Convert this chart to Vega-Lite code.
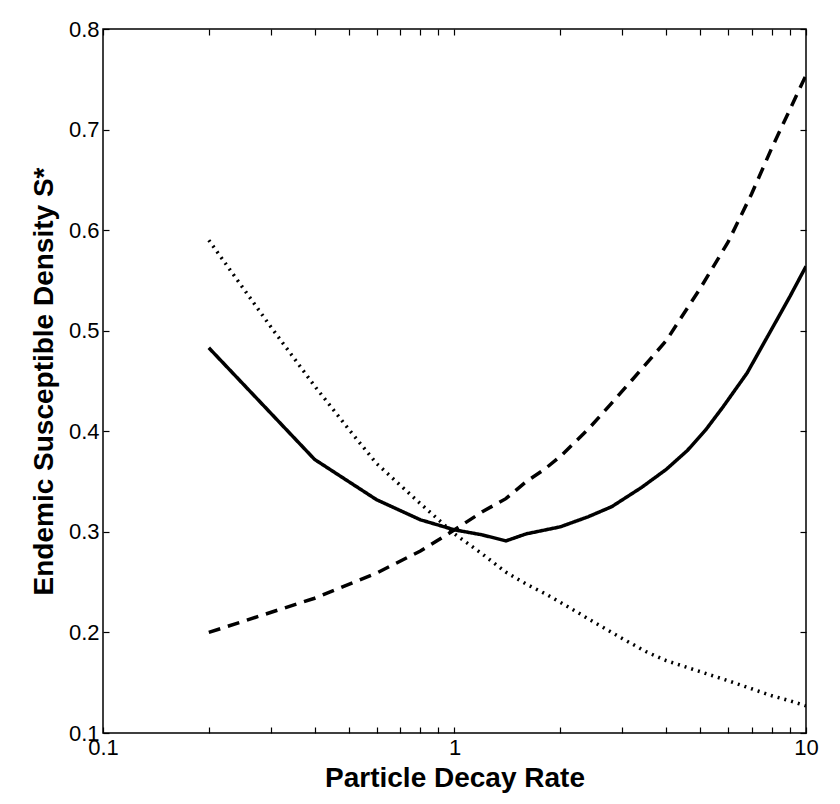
{
  "$schema": "https://vega.github.io/schema/vega-lite/v6.json",
  "width": 703,
  "height": 704,
  "autosize": "none",
  "padding": {"left": 103, "top": 29, "right": 34, "bottom": 71},
  "background": "white",
  "config": {
    "view": {"stroke": "black", "strokeWidth": 1.5},
    "axis": {
      "domain": false,
      "grid": false,
      "tickColor": "black",
      "tickWidth": 1.2,
      "tickSize": -6,
      "labelFont": "Liberation Sans",
      "labelFontSize": 22,
      "labelColor": "black",
      "titleFont": "Liberation Sans",
      "titleFontSize": 28,
      "titleFontWeight": "bold",
      "titleColor": "black"
    }
  },
  "data": {
    "values": [
      {"x": 0.2, "y": 0.483, "s": "solid"},
      {"x": 0.4, "y": 0.372, "s": "solid"},
      {"x": 0.6, "y": 0.332, "s": "solid"},
      {"x": 0.8, "y": 0.312, "s": "solid"},
      {"x": 1.0, "y": 0.302, "s": "solid"},
      {"x": 1.2, "y": 0.297, "s": "solid"},
      {"x": 1.4, "y": 0.291, "s": "solid"},
      {"x": 1.6, "y": 0.298, "s": "solid"},
      {"x": 2.0, "y": 0.305, "s": "solid"},
      {"x": 2.4, "y": 0.315, "s": "solid"},
      {"x": 2.8, "y": 0.325, "s": "solid"},
      {"x": 3.4, "y": 0.344, "s": "solid"},
      {"x": 4.0, "y": 0.362, "s": "solid"},
      {"x": 4.6, "y": 0.381, "s": "solid"},
      {"x": 5.2, "y": 0.402, "s": "solid"},
      {"x": 5.8, "y": 0.424, "s": "solid"},
      {"x": 6.8, "y": 0.458, "s": "solid"},
      {"x": 8.0, "y": 0.502, "s": "solid"},
      {"x": 9.0, "y": 0.534, "s": "solid"},
      {"x": 10.0, "y": 0.564, "s": "solid"},
      {"x": 0.2, "y": 0.200, "s": "dashed"},
      {"x": 0.4, "y": 0.234, "s": "dashed"},
      {"x": 0.6, "y": 0.259, "s": "dashed"},
      {"x": 0.8, "y": 0.281, "s": "dashed"},
      {"x": 1.0, "y": 0.302, "s": "dashed"},
      {"x": 1.2, "y": 0.320, "s": "dashed"},
      {"x": 1.4, "y": 0.333, "s": "dashed"},
      {"x": 1.6, "y": 0.350, "s": "dashed"},
      {"x": 1.8, "y": 0.362, "s": "dashed"},
      {"x": 2.0, "y": 0.375, "s": "dashed"},
      {"x": 2.4, "y": 0.402, "s": "dashed"},
      {"x": 2.8, "y": 0.428, "s": "dashed"},
      {"x": 3.2, "y": 0.451, "s": "dashed"},
      {"x": 4.0, "y": 0.490, "s": "dashed"},
      {"x": 5.0, "y": 0.542, "s": "dashed"},
      {"x": 6.0, "y": 0.588, "s": "dashed"},
      {"x": 7.0, "y": 0.636, "s": "dashed"},
      {"x": 8.0, "y": 0.682, "s": "dashed"},
      {"x": 9.0, "y": 0.720, "s": "dashed"},
      {"x": 10.0, "y": 0.754, "s": "dashed"},
      {"x": 0.2, "y": 0.590, "s": "dotted"},
      {"x": 0.3, "y": 0.504, "s": "dotted"},
      {"x": 0.4, "y": 0.445, "s": "dotted"},
      {"x": 0.5, "y": 0.402, "s": "dotted"},
      {"x": 0.6, "y": 0.368, "s": "dotted"},
      {"x": 0.8, "y": 0.328, "s": "dotted"},
      {"x": 1.0, "y": 0.298, "s": "dotted"},
      {"x": 1.2, "y": 0.278, "s": "dotted"},
      {"x": 1.4, "y": 0.260, "s": "dotted"},
      {"x": 1.6, "y": 0.248, "s": "dotted"},
      {"x": 1.8, "y": 0.239, "s": "dotted"},
      {"x": 2.0, "y": 0.230, "s": "dotted"},
      {"x": 2.5, "y": 0.210, "s": "dotted"},
      {"x": 3.0, "y": 0.194, "s": "dotted"},
      {"x": 3.5, "y": 0.181, "s": "dotted"},
      {"x": 4.0, "y": 0.172, "s": "dotted"},
      {"x": 5.0, "y": 0.161, "s": "dotted"},
      {"x": 6.0, "y": 0.152, "s": "dotted"},
      {"x": 7.0, "y": 0.144, "s": "dotted"},
      {"x": 8.0, "y": 0.137, "s": "dotted"},
      {"x": 9.0, "y": 0.132, "s": "dotted"},
      {"x": 10.0, "y": 0.127, "s": "dotted"}
    ]
  },
  "layer": [
    {
      "mark": {"type": "line", "color": "black", "clip": true},
      "encoding": {
        "x": {
          "field": "x", "type": "quantitative",
          "scale": {"type": "log", "domain": [0.1, 10], "nice": false},
          "axis": {
            "orient": "bottom",
            "title": "Particle Decay Rate",
            "values": [0.1, 0.2, 0.3, 0.4, 0.5, 0.6, 0.7, 0.8, 0.9, 1, 2, 3, 4, 5, 6, 7, 8, 9, 10],
            "labelExpr": "datum.value == 0.1 || datum.value == 1 || datum.value == 10 ? datum.value : ''",
            "labelPadding": 10,
            "labelFlush": false,
            "labelOverlap": false,
            "titlePadding": 6
          }
        },
        "y": {
          "field": "y", "type": "quantitative",
          "scale": {"domain": [0.1, 0.8], "nice": false, "zero": false},
          "axis": {
            "orient": "left",
            "title": "Endemic Susceptible Density S*",
            "values": [0.1, 0.2, 0.3, 0.4, 0.5, 0.6, 0.7, 0.8],
            "format": ".1f",
            "labelPadding": 10,
            "labelFlush": false,
            "labelOverlap": false,
            "titlePadding": 10
          }
        },
        "detail": {"field": "s", "type": "nominal"},
        "strokeDash": {
          "field": "s", "type": "nominal",
          "scale": {"domain": ["solid", "dashed", "dotted"], "range": [[1, 0], [12, 8], [2, 5]]},
          "legend": null
        },
        "strokeWidth": {
          "field": "s", "type": "nominal",
          "scale": {"domain": ["solid", "dashed", "dotted"], "range": [3.5, 3.5, 1.3]},
          "legend": null
        }
      }
    },
    {
      "mark": {"type": "point", "opacity": 0},
      "encoding": {
        "x": {
          "field": "x", "type": "quantitative",
          "axis": {
            "orient": "top",
            "title": null,
            "labels": false,
            "values": [0.1, 0.2, 0.3, 0.4, 0.5, 0.6, 0.7, 0.8, 0.9, 1, 2, 3, 4, 5, 6, 7, 8, 9, 10]
          }
        },
        "y": {
          "field": "y", "type": "quantitative",
          "axis": {
            "orient": "right",
            "title": null,
            "labels": false,
            "values": [0.1, 0.2, 0.3, 0.4, 0.5, 0.6, 0.7, 0.8]
          }
        }
      }
    }
  ]
}
